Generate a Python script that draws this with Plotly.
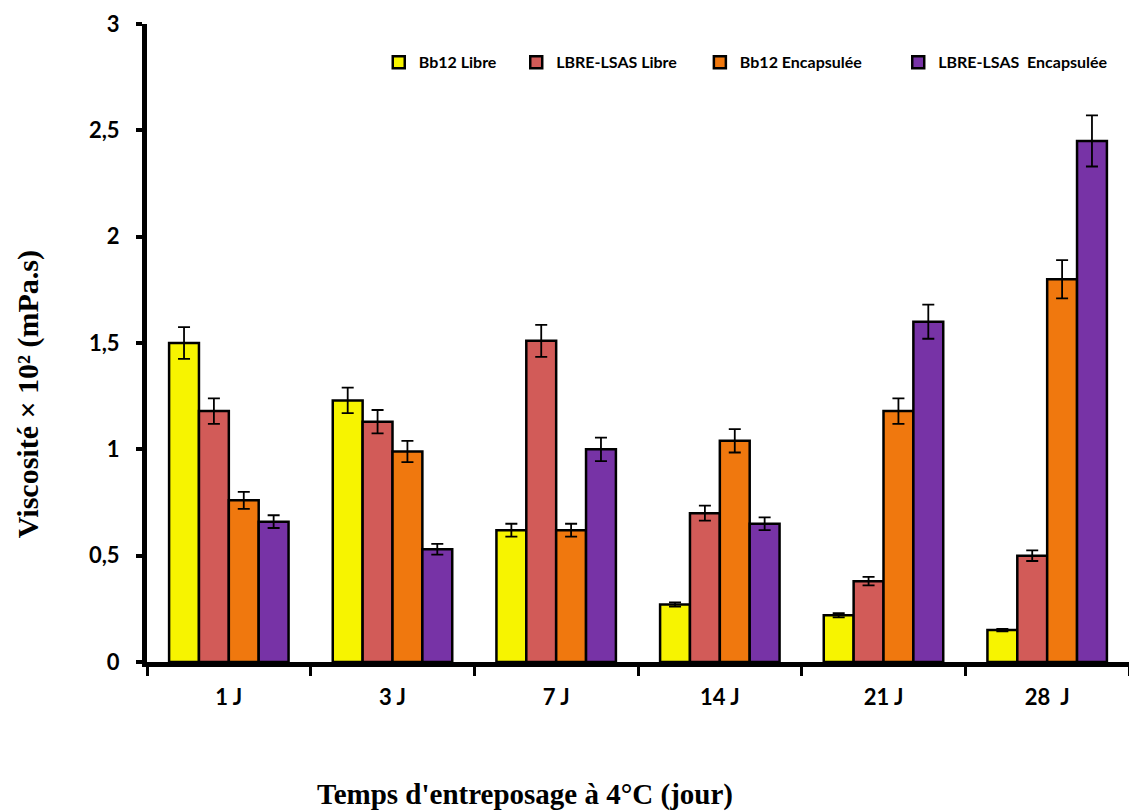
import plotly.graph_objects as go

# Storage days and viscosity measurements (x 10^2 mPa.s)
jours = ["1 J", "3 J", "7 J", "14 J", "21 J", "28\u00a0 J"]

bb12_libre = [1.50, 1.23, 0.62, 0.27, 0.22, 0.15]
bb12_libre_err = [0.075, 0.06, 0.03, 0.01, 0.01, 0.006]

lbre_libre = [1.18, 1.13, 1.51, 0.70, 0.38, 0.50]
lbre_libre_err = [0.06, 0.055, 0.075, 0.035, 0.02, 0.025]

bb12_encaps = [0.76, 0.99, 0.62, 1.04, 1.18, 1.80]
bb12_encaps_err = [0.04, 0.05, 0.03, 0.055, 0.06, 0.09]

lbre_encaps = [0.66, 0.53, 1.00, 0.65, 1.60, 2.45]
lbre_encaps_err = [0.03, 0.025, 0.055, 0.03, 0.08, 0.12]

y_ticks = [0, 0.5, 1, 1.5, 2, 2.5, 3]
y_ticktext = ["0", "0,5", "1", "1,5", "2", "2,5", "3"]

series_names = ["Bb12 Libre", "LBRE-LSAS Libre", "Bb12 Encapsulée", "LBRE-LSAS\u00a0 Encapsulée"]
series_values = [bb12_libre, lbre_libre, bb12_encaps, lbre_encaps]
series_errors = [bb12_libre_err, lbre_libre_err, bb12_encaps_err, lbre_encaps_err]
series_colors = ["#F7F400", "#D25B58", "#F0780E", "#7733A6"]

# one legend box per series so the entries can be spaced freely along the top
legend_ids = ["legend", "legend2", "legend3", "legend4"]
legend_x = [0.236, 0.376, 0.563, 0.765]

fig = go.Figure()
for name, vals, errs, color, lid in zip(series_names, series_values, series_errors,
                                        series_colors, legend_ids):
    fig.add_trace(go.Bar(
        name=name,
        x=jours,
        y=vals,
        legend=lid,
        marker=dict(color=color, line=dict(color="black", width=2.5)),
        error_y=dict(type="data", array=errs, color="black", thickness=1.8, width=6),
    ))

legend_font = dict(family="Lato", size=16, color="black", weight="bold")
legend_layout = {}
for lid, lx in zip(legend_ids, legend_x):
    legend_layout[lid] = dict(
        orientation="h",
        x=lx, xanchor="left",
        y=0.94, yanchor="middle",
        font=legend_font,
        itemwidth=30,
        bgcolor="rgba(0,0,0,0)",
    )

tick_font = dict(family="Lato", size=22, color="black", weight="bold")

fig.update_layout(
    width=1129,
    height=812,
    barmode="group",
    bargap=0.27,
    bargroupgap=0,
    plot_bgcolor="white",
    paper_bgcolor="white",
    margin=dict(l=147, r=0, t=24, b=150),
    showlegend=True,
    xaxis=dict(
        showline=True, linecolor="black", linewidth=5,
        ticks="outside", tickson="boundaries", ticklen=9, tickwidth=3, tickcolor="black",
        tickfont=tick_font,
        ticklabelstandoff=12,
        showgrid=False, zeroline=False,
    ),
    yaxis=dict(
        range=[0, 3],
        showline=True, linecolor="black", linewidth=5,
        ticks="outside", ticklen=6, tickwidth=4, tickcolor="black",
        tickvals=y_ticks, ticktext=y_ticktext,
        tickfont=tick_font,
        ticklabelstandoff=12,
        showgrid=False, zeroline=False,
    ),
    annotations=[
        dict(
            text="Viscosité × 10² (mPa.s)",
            xref="paper", yref="paper",
            x=-0.121, y=0.42, xanchor="center", yanchor="middle",
            textangle=-90, showarrow=False,
            font=dict(family="Liberation Serif", size=30, color="black", weight="bold"),
        ),
        dict(
            text="Temps d'entreposage à 4°C (jour)",
            xref="paper", yref="paper",
            x=0.385, y=-0.208, xanchor="center", yanchor="middle",
            showarrow=False,
            font=dict(family="Liberation Serif", size=29, color="black", weight="bold"),
        ),
    ],
    **legend_layout,
)

fig.write_html("out.html")
